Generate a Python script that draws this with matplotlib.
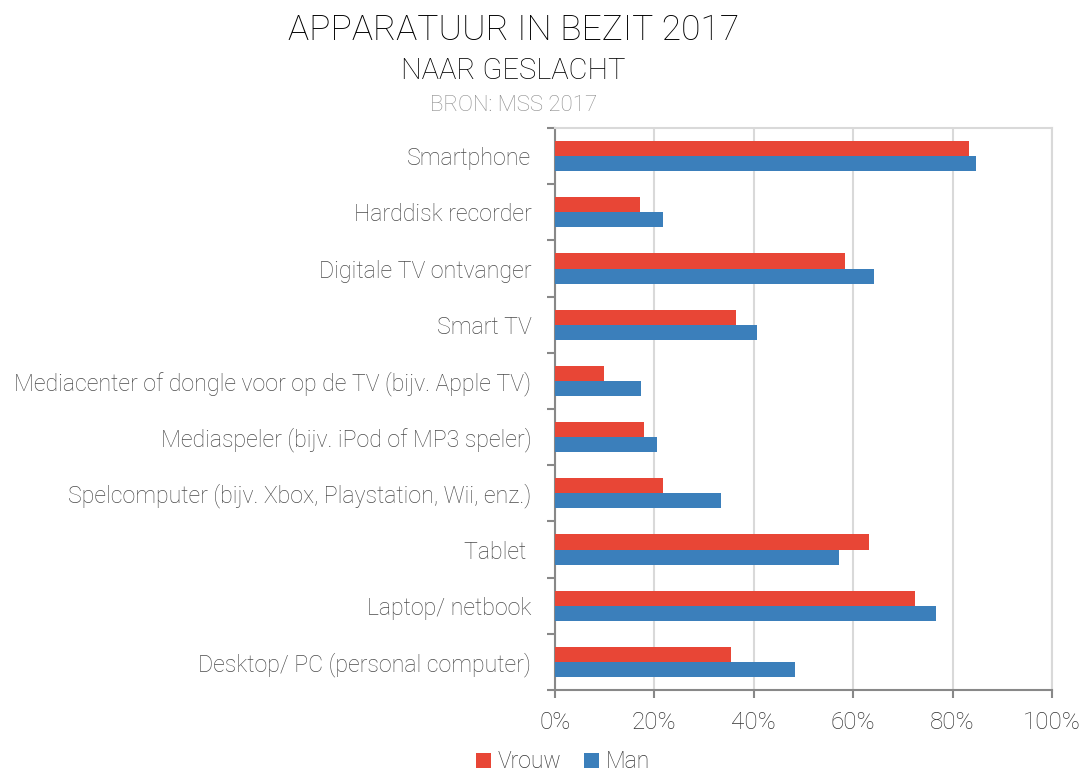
import numpy as np, matplotlib
matplotlib.use("Agg"); import matplotlib.pyplot as plt
from matplotlib.ticker import PercentFormatter

plt.rcParams['font.family'] = ['Roboto', 'DejaVu Sans']
plt.rcParams['font.weight'] = 'light'

categories = ["Smartphone", "Harddisk recorder", "Digitale TV ontvanger", "Smart TV",
              "Mediacenter of dongle voor op de TV (bijv. Apple TV)",
              "Mediaspeler (bijv. iPod of MP3 speler)",
              "Spelcomputer (bijv. Xbox, Playstation, Wii, enz.)",
              "Tablet ", "Laptop/ netbook", "Desktop/ PC (personal computer)"]
vrouw = [83.2, 17.1, 58.4, 36.4, 9.8, 17.9, 21.7, 63.1, 72.5, 35.5]
man = [84.8, 21.8, 64.1, 40.6, 17.3, 20.5, 33.3, 57.1, 76.7, 48.3]
xticks = [0, 20, 40, 60, 80, 100]

RED = "#E84636"; BLUE = "#3B7FBB"; TXT = "#4A4A4A"

fig = plt.figure(figsize=(10.81, 7.74), dpi=100)
ax = fig.add_axes([0.5134, 0.1085, 0.4598, 0.7261])

y = np.arange(len(categories))
h = 0.27
ax.barh(y - h/2, vrouw, height=h, color=RED, label="Vrouw", zorder=3)
ax.barh(y + h/2, man, height=h, color=BLUE, label="Man", zorder=3)

ax.set_ylim(len(categories) - 0.5, -0.5)
ax.set_xlim(0, 100)
ax.set_xticks(xticks)
ax.xaxis.set_major_formatter(PercentFormatter(decimals=0))
ax.set_yticks(y)
ax.set_yticklabels(categories)
ax.set_yticks(np.arange(len(categories) + 1) - 0.5, minor=True)
ax.tick_params(axis="y", which="major", length=0, pad=17, labelsize=16.7, labelcolor=TXT)
ax.tick_params(axis="y", which="minor", length=6, width=1.5, color="#888888")
ax.tick_params(axis="x", length=6, width=1.5, color="#888888", labelsize=17.5, labelcolor="#333333", pad=9)
ax.grid(axis="x", color="#D9D9D9", linewidth=1.5, zorder=0)

for s in ["top", "right"]:
    ax.spines[s].set_color("#D9D9D9"); ax.spines[s].set_linewidth(1.5)
for s in ["left", "bottom"]:
    ax.spines[s].set_color("#888888"); ax.spines[s].set_linewidth(1.5)

fig.text(0.475, 0.961, "APPARATUUR IN BEZIT 2017", ha="center", va="center", fontsize=25.5, color="black")
fig.text(0.475, 0.908, "NAAR GESLACHT", ha="center", va="center", fontsize=21, color="black")
fig.text(0.475, 0.864, "BRON: MSS 2017", ha="center", va="center", fontsize=16, color="#8C8C8C")

fig.legend(loc="lower center", bbox_to_anchor=(0.521, -0.026), ncol=2, frameon=False,
           fontsize=16.5, handlelength=0.65, handleheight=0.65, handletextpad=0.3,
           columnspacing=1.0, labelcolor="#333333")

fig.savefig("out.png", dpi=100)
